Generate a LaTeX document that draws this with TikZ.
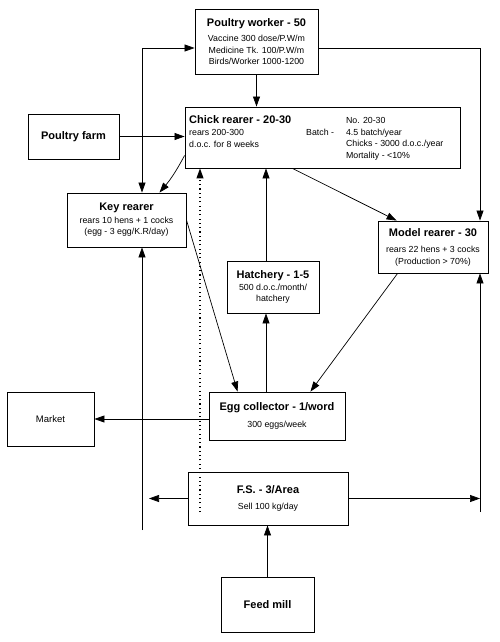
\documentclass[tikz,border=0pt]{standalone}
\usepackage{fontspec}
\setmainfont{Liberation Sans}
\usetikzlibrary{arrows.meta,calc,positioning}
\newcommand{\boxtitle}[1]{{\fontsize{11}{12}\selectfont\bfseries #1}}

\begin{document}
\begin{tikzpicture}[x=1pt,y=-1pt,>={Triangle[length=10pt,width=7pt]},
    box/.style={draw,line width=0.9pt,align=center,inner sep=2pt,font=\fontsize{8.8}{11.5}\selectfont},
    txt/.style={inner sep=0pt,font=\fontsize{8.8}{11.5}\selectfont},
    link/.style={line width=0.7pt}]
  \useasboundingbox (0,0) rectangle (500,642);
  \coordinate (kx) at (142,0);
  \coordinate (hx) at (266,0);
  \coordinate (rx) at (480,0);
  \coordinate (lefttip) at (149,0);
  \coordinate (lbot) at (142,530);
  \coordinate (rbot) at (480,512);
  \coordinate (dotend) at (200,512);
  \node[box,minimum width=123pt,minimum height=65pt] (worker) at (256.5,41.5)
    {\boxtitle{Poultry worker - 50}\\[4pt] Vaccine 300 dose/P.W/m\\ Medicine Tk. 100/P.W/m\\ Birds/Worker 1000-1200};
  \node[box,minimum width=275pt,minimum height=61pt] (chick) at (322.5,137.5) {};
  \node[txt,anchor=north west,align=left] (chickl) at (189,115)
    {\boxtitle{Chick rearer - 20-30}\\[1pt] rears 200-300\\ d.o.c. for 8 weeks};
  \node[txt,anchor=north west] (chickr) at (306,115.5)
    {\begin{tabular}{@{}r@{\hspace{12pt}}l@{}} & No. 20-30\\ Batch - & 4.5 batch/year\\
      & Chicks - 3000 d.o.c./year\\ & Mortality - <10\%\end{tabular}};
  \node[box,minimum width=91pt,minimum height=45pt] (farm) at (73.5,136.5) {\boxtitle{Poultry farm}};
  \node[box,minimum width=119pt,minimum height=54pt] (key) at (126.5,220)
    {\boxtitle{Key rearer}\\[1pt] rears 10 hens + 1 cocks\\ (egg - 3 egg/K.R/day)};
  \node[box,minimum width=92pt,minimum height=52pt] (hatch) at (273,287)
    {\boxtitle{Hatchery - 1-5}\\ 500 d.o.c./month/\\ hatchery};
  \node[box,minimum width=110pt,minimum height=52pt] (model) at (433,247)
    {\boxtitle{Model rearer - 30}\\[5pt] rears 22 hens + 3 cocks\\ (Production > 70\%)};
  \node[box,minimum width=136pt,minimum height=48pt] (egg) at (277,416)
    {\boxtitle{Egg collector - 1/word}\\[5pt] 300 eggs/week};
  \node[box,minimum width=87pt,minimum height=54pt,font=\fontsize{9.5}{11}\selectfont] (market) at (50.5,419) {Market};
  \node[box,minimum width=160pt,minimum height=53pt] (fs) at (268,498.5)
    {\boxtitle{F.S. - 3/Area}\\[4pt] Sell 100 kg/day};
  \node[box,minimum width=93pt,minimum height=55pt] (mill) at (267.5,604.5) {\boxtitle{Feed mill}};

  \draw[link,->] (worker.south) -- (worker.south |- chick.north);
  \draw[link,<->] (key.north -| kx) |- ($(worker.west)+(0,6.5)$);
  \draw[link,->] ($(worker.east)+(0,6.5)$) -| (model.north -| rx);
  \draw[link,->] (farm.east) -- (farm.east -| chick.west);
  \draw[link,->] ($(chick.west)+(0,18)$) to[bend left=6] ($(key.north)+(33,0)$);
  \draw[link,->] (key.east) -- ($(egg.north west)+(29,0)$);
  \draw[link,->,line width=1.1pt,dash pattern=on 1.1pt off 3.2pt] (dotend) -- (dotend |- chick.south);
  \draw[link,->] (hatch.north -| hx) -- (chick.south -| hx);
  \draw[link,->] (egg.north -| hx) -- (hatch.south -| hx);
  \draw[link,->] ($(chick.south)+(-30,0)$) -- ($(model.north west)+(19,0)$);
  \draw[link,->] ($(model.south west)+(20,0)$) -- ($(egg.north east)+(-35,0)$);
  \draw[link,->] (market.east -| egg.west) -- (market.east);
  \draw[link,->] (fs.west) -- (fs.west -| lefttip);
  \draw[link,->] (fs.east) -- (fs.east -| rx);
  \draw[link,->] (lbot) -- (key.south -| lbot);
  \draw[link,->] (rbot) -- (model.south -| rbot);
  \draw[link,->] (mill.north) -- (mill.north |- fs.south);
\end{tikzpicture}
\end{document}
